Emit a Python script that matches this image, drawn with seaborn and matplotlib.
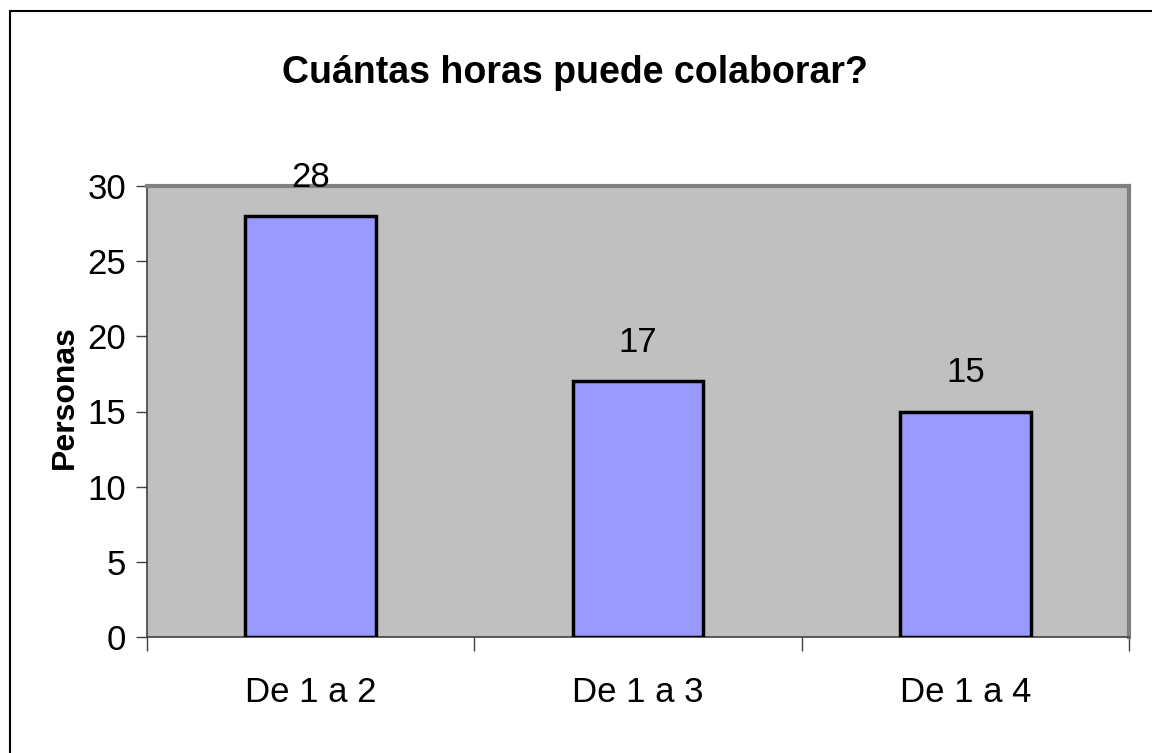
import matplotlib
matplotlib.use("Agg")
import matplotlib.pyplot as plt
from matplotlib.lines import Line2D
from matplotlib.ticker import FixedLocator, NullFormatter
import seaborn as sns
import pandas as pd

categories = ["De 1 a 2", "De 1 a 3", "De 1 a 4"]
personas = [28, 17, 15]
y_ticks = [0, 5, 10, 15, 20, 25, 30]

title = "Cuántas horas puede colaborar?"
y_label = "Personas"

sns.set_theme(style="white")
plt.rcParams["font.family"] = ["Liberation Sans", "DejaVu Sans"]
plt.rcParams["text.color"] = "black"
plt.rcParams["axes.labelcolor"] = "black"
plt.rcParams["xtick.color"] = "black"
plt.rcParams["ytick.color"] = "black"

df = pd.DataFrame({"cat": categories, "val": personas})

fig = plt.figure(figsize=(11.52, 7.53), dpi=100)
fig.patch.set_facecolor("white")
ax = fig.add_axes([147 / 1152, 1 - 637 / 753, (1129 - 147) / 1152, (637 - 186) / 753])

sns.barplot(data=df, x="cat", y="val", color="#9999FF", saturation=1,
            edgecolor="black", linewidth=2.5, width=0.4, ax=ax, zorder=3)

ax.set_facecolor("#C0C0C0")
ax.set_xlim(-0.5, len(categories) - 0.5)
ax.set_ylim(0, 30)

# plot-area frame: grey top/right, darker axis lines left/bottom
for side in ("top", "right"):
    ax.spines[side].set_color("#808080")
    ax.spines[side].set_linewidth(3)
for side in ("left", "bottom"):
    ax.spines[side].set_color("#404040")
    ax.spines[side].set_linewidth(1.2)

ax.set_yticks(y_ticks)
ax.set_yticklabels([str(t) for t in y_ticks], fontsize=25, color="black")
ax.tick_params(axis="y", direction="out", length=8, width=1, color="#404040",
               pad=7, left=True)

# x ticks at category boundaries, labels centred under the bars
bounds = [i - 0.5 for i in range(len(categories) + 1)]
ax.xaxis.set_major_locator(FixedLocator(bounds))
ax.xaxis.set_major_formatter(NullFormatter())
ax.xaxis.set_minor_locator(FixedLocator(list(range(len(categories)))))
ax.set_xticklabels(categories, minor=True, fontsize=25, color="black")
ax.tick_params(axis="x", which="major", direction="out", length=10, width=1,
               color="#404040", bottom=True)
ax.tick_params(axis="x", which="minor", length=0, pad=28)

ax.set_xlabel("")
ax.set_ylabel(y_label, fontsize=23, fontweight="bold", color="black")
ax.yaxis.set_label_coords(-0.068, (637 - 397) / 451)

for i, v in enumerate(personas):
    ax.annotate(str(v), (i, v), xytext=(0, 21), textcoords="offset points",
                ha="center", va="baseline", fontsize=25, color="black",
                annotation_clip=False)

fig.text(575 / 1152, 1 - 73 / 753, title, ha="center", va="center",
         fontsize=27, fontweight="bold", color="black")

# chart area border (top and left edges)
fig.add_artist(Line2D([9.5 / 1152, 9.5 / 1152], [0, 1 - 11 / 753],
                      transform=fig.transFigure, color="black", lw=1.5))
fig.add_artist(Line2D([9.5 / 1152, 1], [1 - 11 / 753, 1 - 11 / 753],
                      transform=fig.transFigure, color="black", lw=1.5))

fig.savefig("out.png", dpi=100, facecolor="white")
